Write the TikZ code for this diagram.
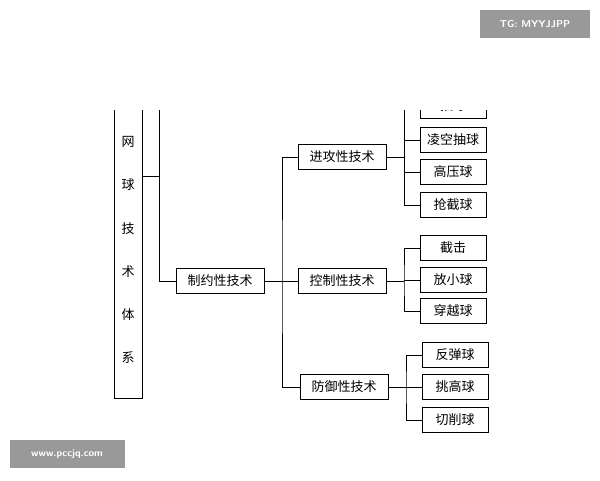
\documentclass[tikz,border=0pt]{standalone}
\usepackage{fontspec}
\newfontfamily\cjk{Noto Sans CJK SC}
\begin{document}
\begin{tikzpicture}[x=1pt,y=-1pt,
  bx/.style={draw, line width=0.9pt, inner sep=0pt, minimum height=25pt, font=\cjk\fontsize{13}{13}\selectfont},
  mid/.style={bx, minimum width=88pt},
  leaf/.style={bx, minimum width=66pt},
  ln/.style={line width=0.8pt},
  wm/.style={fill=black!40, text=white, font=\sffamily\bfseries\fontsize{10}{10}\selectfont, inner sep=0pt}]
\useasboundingbox (0,0) rectangle (600,480);
\fill[white] (0,0) rectangle (600,480);
\begin{scope}
\clip (0,110) rectangle (600,480);
\node[draw, line width=0.9pt, minimum width=28pt, minimum height=300pt, inner sep=0pt] (root) at (128,248) {};
\foreach \t/\y in {网/142,球/185,技/229,术/272,体/315,系/358}
  \node[font=\cjk\fontsize{13}{13}\selectfont] (r\t) at (128,\y) {\t};
\node[mid] (zy) at (220,281) {制约性技术};
\node[mid] (jg) at (342,157) {进攻性技术};
\node[mid] (kz) at (342,281) {控制性技术};
\node[mid] (fy) at (344,387) {防御性技术};
\node[leaf] (l0) at (453,106) {抽球};
\node[leaf] (l1) at (453,140) {凌空抽球};
\node[leaf] (l2) at (453,172) {高压球};
\node[leaf] (l3) at (453,205) {抢截球};
\node[leaf] (k1) at (453,248) {截击};
\node[leaf] (k2) at (453,280) {放小球};
\node[leaf] (k3) at (453,311) {穿越球};
\node[leaf] (f1) at (455,355) {反弹球};
\node[leaf] (f2) at (455,387) {挑高球};
\node[leaf] (f3) at (455,420) {切削球};
\coordinate (top) at (159,100);
\draw[ln] (root.east |- 0,176) -- (159,176);
\draw[ln] (top) |- (zy.west);
\draw[ln] (zy.east) -- (kz.west);
\draw[ln] (jg.west) -| (282,281) |- (fy.west);
\coordinate (jt) at (404,100);
\draw[ln] (jg.east) -- (404,157);
\draw[ln] (jt) |- (l3.west);
\foreach \n in {l1,l2} \draw[ln] (404,0 |- \n.west) -- (\n.west);
\draw[ln] (kz.east) -- (404,281);
\draw[ln] (k1.west) -| (404,281) |- (k3.west);
\draw[ln] (404,280) -- (k2.west);
\draw[ln] (fy.east) -- (406,387);
\draw[ln] (f1.west) -| (406,387) |- (f3.west);
\draw[ln] (406,387) -- (f2.west);
\end{scope}
\node[wm, minimum width=110pt, minimum height=28pt] (w1) at (535,24) {TG: MYYJJPP};
\node[wm, minimum width=115pt, minimum height=28pt] (w2) at (67,454) {www.pccjq.com};
\end{tikzpicture}
\end{document}
